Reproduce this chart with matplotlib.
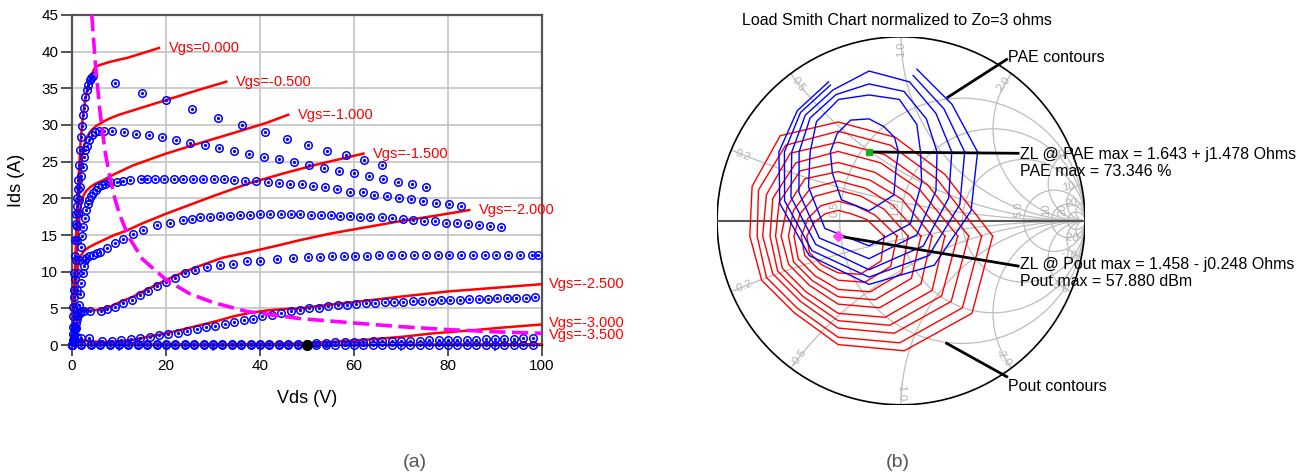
import numpy as np
import matplotlib.pyplot as plt
from matplotlib.patches import Circle

plt.rcParams['font.family'] = ['Liberation Sans', 'DejaVu Sans']

# ---------------- (a) I-V curves ----------------
# measured points (Vds, Ids) read off the plot, one list per Vgs
meas_0 = [(0.0, 0.0), (0.1, 0.7), (0.2, 2.5), (0.3, 5.2), (0.4, 7.5), (0.5, 9.8), (0.6, 12.2), (0.7, 14.3),
          (0.8, 16.5), (0.9, 17.8), (1.0, 18.9), (1.1, 20.0), (1.2, 21.3), (1.3, 22.5), (1.5, 24.6), (1.7, 26.6),
          (1.9, 28.3), (2.1, 29.8), (2.3, 31.3), (2.5, 32.3), (2.8, 33.8), (3.1, 34.8), (3.4, 35.5), (3.8, 36.1),
          (4.1, 36.4), (4.5, 36.7), (9.2, 35.7), (14.8, 34.4), (20.0, 33.4), (25.5, 32.2), (31.0, 31.0),
          (36.2, 30.0), (41.1, 29.0), (45.7, 28.1), (50.1, 27.3), (54.2, 26.5), (58.3, 25.9), (62.2, 25.2),
          (65.9, 24.6)]
meas_05 = [(0.0, 0.0), (0.15, 1.5), (0.3, 4.0), (0.45, 6.5), (0.6, 9.0), (0.8, 11.6), (1.0, 14.3), (1.15, 16.2),
           (1.3, 18.0), (1.5, 19.8), (1.7, 21.6), (2.0, 23.0), (2.3, 24.3), (2.6, 25.6), (2.8, 26.6), (3.1, 27.2),
           (3.5, 28.0), (4.2, 28.6), (4.9, 29.1), (5.7, 29.2), (6.7, 29.2), (8.6, 29.2), (11.1, 29.0), (13.6, 28.8),
           (16.4, 28.6), (19.2, 28.3), (22.1, 28.0), (25.1, 27.6), (28.2, 27.3), (31.3, 26.9), (34.5, 26.5),
           (37.7, 26.1), (40.9, 25.7), (44.1, 25.3), (47.3, 24.9), (50.5, 24.5), (53.7, 24.1), (56.9, 23.7),
           (60.0, 23.4), (63.2, 23.0), (66.2, 22.6), (69.3, 22.2), (72.3, 21.9), (75.3, 21.5)]
meas_10 = [(0.0, 0.0), (0.2, 0.4), (0.4, 0.7), (0.6, 2.5), (0.9, 5.2), (1.1, 7.5), (1.3, 9.8), (1.55, 11.6),
           (1.8, 13.4), (2.1, 14.8), (2.4, 16.1), (2.7, 17.3), (3.0, 18.4), (3.4, 19.2), (3.7, 19.8), (4.1, 20.3),
           (4.5, 20.7), (5.0, 21.2), (5.6, 21.6), (6.3, 21.8), (7.0, 22.0), (8.1, 22.2), (9.5, 22.2), (10.9, 22.4),
           (12.3, 22.5), (14.6, 22.6), (15.9, 22.7), (17.7, 22.7), (19.6, 22.7), (21.6, 22.7), (23.6, 22.7),
           (25.8, 22.7), (27.9, 22.7), (30.1, 22.6), (32.3, 22.6), (34.5, 22.5), (36.9, 22.4), (39.1, 22.3),
           (41.6, 22.2), (44.0, 22.1), (46.4, 22.0), (48.9, 21.9), (51.3, 21.7), (53.8, 21.6), (56.4, 21.3),
           (59.1, 20.9), (61.8, 20.8), (64.3, 20.5), (67.0, 20.3), (69.6, 20.1), (72.1, 19.9), (74.7, 19.6),
           (77.4, 19.4), (80.1, 19.2), (82.7, 19.0)]
meas_15 = [(0.0, 0.0), (0.3, 0.5), (0.6, 0.7), (0.9, 2.3), (1.1, 3.9), (1.4, 5.5), (1.7, 7.0), (2.0, 8.5),
           (2.3, 9.8), (2.6, 10.8), (2.8, 11.6), (3.0, 11.8), (3.5, 12.1), (4.5, 12.3), (5.2, 12.5), (6.0, 12.7),
           (7.4, 13.2), (9.1, 13.9), (10.9, 14.5), (13.0, 15.1), (15.2, 15.7), (18.0, 16.3), (20.9, 16.7),
           (23.7, 17.0), (25.5, 17.2), (27.2, 17.4), (29.4, 17.5), (31.5, 17.6), (33.6, 17.65), (35.7, 17.7),
           (37.9, 17.75), (40.0, 17.8), (42.2, 17.8), (44.4, 17.8), (46.5, 17.8), (48.6, 17.8), (50.8, 17.75),
           (52.9, 17.7), (55.0, 17.7), (57.1, 17.65), (59.1, 17.6), (61.3, 17.5), (63.5, 17.4), (65.9, 17.4),
           (68.0, 17.3), (70.4, 17.2), (72.6, 17.0), (74.9, 16.9), (77.2, 16.9), (79.6, 16.7), (81.8, 16.6),
           (84.2, 16.5), (86.6, 16.4), (88.9, 16.2), (91.2, 16.1)]
meas_20 = [(0.0, 0.0), (0.2, 0.5), (0.4, 1.2), (0.6, 2.2), (0.8, 3.0), (1.0, 3.6), (1.3, 4.1), (1.6, 4.4),
           (2.0, 4.6), (2.6, 4.6), (3.8, 4.6), (6.1, 4.6), (7.4, 4.9), (9.1, 5.2), (10.9, 5.7), (12.7, 6.2),
           (14.5, 6.8), (16.2, 7.4), (18.0, 8.0), (20.0, 8.6), (21.9, 9.2), (24.0, 9.8), (26.2, 10.2), (28.7, 10.6),
           (31.5, 10.9), (34.3, 11.1), (37.2, 11.4), (40.0, 11.5), (43.6, 11.7), (47.1, 11.8), (50.3, 12.0),
           (52.8, 12.05), (55.3, 12.1), (57.8, 12.15), (60.3, 12.2), (62.8, 12.2), (65.3, 12.25), (67.8, 12.25),
           (70.3, 12.3), (72.8, 12.3), (75.3, 12.3), (77.8, 12.3), (80.3, 12.3), (82.8, 12.3), (85.3, 12.3),
           (87.8, 12.3), (90.3, 12.3), (92.8, 12.3), (95.3, 12.3), (97.8, 12.3), (99.2, 12.3)]
meas_25 = [(0.0, 0.0), (0.2, 0.4), (0.5, 0.9), (1.0, 1.1), (2.0, 1.0), (3.5, 0.9), (6.3, 0.6), (8.5, 0.6),
           (10.5, 0.7), (12.5, 0.8), (14.5, 0.9), (16.5, 1.1), (18.5, 1.3), (20.5, 1.5), (22.5, 1.7), (24.5, 1.9),
           (26.5, 2.2), (28.5, 2.4), (30.5, 2.6), (32.5, 2.9), (34.5, 3.1), (36.5, 3.4), (38.5, 3.6), (40.5, 3.9),
           (42.5, 4.1), (44.5, 4.4), (46.5, 4.6), (48.5, 4.8), (50.5, 5.0), (52.5, 5.1), (54.5, 5.3), (56.5, 5.4),
           (58.5, 5.5), (60.5, 5.6), (62.5, 5.7), (64.5, 5.75), (66.5, 5.8), (68.5, 5.85), (70.5, 5.9),
           (72.5, 5.95), (74.5, 6.0), (76.5, 6.05), (78.5, 6.1), (80.5, 6.15), (82.5, 6.2), (84.5, 6.25),
           (86.5, 6.3), (88.5, 6.3), (90.5, 6.35), (92.5, 6.4), (94.5, 6.4), (96.5, 6.45), (98.5, 6.5)]
vds_low = [0, 2, 4, 6, 8, 10, 12, 14, 16, 18, 20, 22, 24, 26, 28, 30, 32, 34, 36, 38, 40, 42, 44, 46, 48,
           50, 52, 54, 56, 58, 60, 62, 64, 66, 68, 70, 72, 74, 76, 78, 80, 82, 84, 86, 88, 90, 92, 94, 96, 98]
ids_30 = [0.0, 0.2, 0.1, 0.1, 0.1, 0.1, 0.1, 0.1, 0.1, 0.1, 0.1, 0.1, 0.1, 0.1, 0.1, 0.1, 0.1, 0.1, 0.1, 0.1,
          0.1, 0.15, 0.15, 0.15, 0.2, 0.2, 0.25, 0.3, 0.35, 0.4, 0.4, 0.45, 0.5, 0.5, 0.55, 0.55, 0.6, 0.6, 0.65,
          0.65, 0.7, 0.7, 0.75, 0.75, 0.8, 0.8, 0.85, 0.85, 0.9, 0.9]
ids_35 = [0.0] * len(vds_low)

# model curves (Vds, Ids)
model_0 = [(0, 0), (0.3, 5), (0.6, 10), (1.0, 17), (1.4, 23), (1.8, 27.5), (2.2, 30.5), (2.7, 33), (3.3, 35),
           (4.0, 36.5), (4.6, 37.5), (5.2, 38), (6.0, 38.2), (8, 38.6), (10, 38.9), (12, 39.2), (14, 39.6),
           (16, 40), (18.5, 40.5)]
model_05 = [(0, 0), (0.4, 6), (0.8, 12), (1.2, 17.5), (1.6, 22), (2.0, 25), (2.5, 27), (3.0, 28.2), (4.0, 29.2),
            (5.0, 29.8), (6.5, 30.4), (8, 30.9), (10, 31.4), (14.5, 32.3), (20, 33.4), (27, 34.8), (32.8, 35.9)]
model_10 = [(0, 0), (0.4, 5), (0.8, 10), (1.2, 14.5), (1.6, 17.5), (2.0, 19.5), (2.5, 20.5), (3, 21), (4, 21.6),
            (5, 22), (6.7, 22.5), (9, 23.3), (13, 24.5), (20, 26.1), (27, 27.5), (34.3, 28.9), (41.4, 30.3),
            (46, 31.4)]
model_15 = [(0, 0), (0.4, 4), (0.8, 8), (1.2, 10.5), (1.7, 12), (2.5, 12.8), (3.5, 13.3), (5, 13.8), (7, 14.4),
            (9, 15), (11.6, 15.6), (15, 16.6), (20, 17.9), (25, 19.1), (30, 20.3), (37.9, 22.1), (45, 23.4),
            (52, 24.6), (62, 26.1)]
model_20 = [(0, 0), (0.5, 1.5), (1, 3), (1.5, 4), (2.4, 4.8), (4, 4.7), (6, 4.8), (8, 5.2), (10, 5.8), (13, 6.6),
            (16, 7.6), (20.1, 8.9), (24, 10), (27.2, 10.8), (32, 11.9), (37.9, 12.7), (44, 13.6), (48.5, 14.3),
            (55, 15.2), (62, 16.0), (70, 16.9), (78, 17.7), (84.5, 18.4)]
model_25 = [(0, 0), (0.5, 0.5), (1, 0.7), (1.7, 0.7), (3, 0.6), (6, 0.4), (9, 0.45), (13, 0.7), (16, 1.1),
            (20.1, 1.6), (24, 2.2), (27.2, 2.7), (31, 3.3), (34.3, 3.9), (38, 4.4), (41.4, 4.7), (45, 4.9),
            (48.5, 5.0), (54.9, 5.5), (62, 6.0), (70, 6.6), (80, 7.3), (90, 7.8), (100, 8.3)]
model_30 = [(0, 0), (5, 0.05), (10, 0.05), (20, 0.05), (30, 0.05), (40, 0.1), (45, 0.15), (50, 0.25), (60, 0.6),
            (70, 1.1), (77, 1.6), (85, 2.0), (92, 2.4), (100, 2.8)]
model_35 = [(0, 0), (20, 0), (40, 0), (60, 0.02), (80, 0.05), (100, 0.1)]

vgs_labels = ['Vgs=0.000', 'Vgs=-0.500', 'Vgs=-1.000', 'Vgs=-1.500',
              'Vgs=-2.000', 'Vgs=-2.500', 'Vgs=-3.000', 'Vgs=-3.500']

# constant power boundary (dashed magenta)
pmax_vds = [4.2, 5, 6, 7, 8, 9, 10, 12, 15, 20, 25, 30, 37, 48.5, 60, 70, 80, 90, 100]
pmax_ids = [45, 38, 31.5, 26.5, 23, 20.2, 18, 14.8, 11.7, 8.9, 7, 5.8, 4.6, 3.6, 3.0, 2.5, 2.1, 1.8, 1.6]

q_point = (50, 0)

fig = plt.figure(figsize=(13.15, 4.76), dpi=100)
ax = fig.add_axes([0.0548, 0.2752, 0.3574, 0.6933])

models = [model_0, model_05, model_10, model_15, model_20, model_25, model_30, model_35]
offsets = [(7, 0), (7, 0), (7, 0), (7, 0), (7, 0), (5, 0), (5, 1), (5, 7)]
for m, lab, off in zip(models, vgs_labels, offsets):
    v, i = np.array(m).T
    ax.plot(v, i, color='#ff0000', lw=1.8, zorder=3)
    ax.annotate(lab, xy=(v[-1], i[-1]), xytext=off, textcoords='offset points',
                va='center', ha='left', color='#ff0000', fontsize=10.5, annotation_clip=False)

mk = dict(ls='none', marker='o', ms=5.4, mfc='none', mec='#0000ff', mew=1.1, zorder=4, clip_on=False)
dot = dict(ls='none', marker='o', ms=1.3, color='#0000ff', zorder=4, clip_on=False)
for m in [meas_0, meas_05, meas_10, meas_15, meas_20, meas_25]:
    v, i = np.array(m).T
    ax.plot(v, i, **mk)
    ax.plot(v, i, **dot)
for i_row in [ids_30, ids_35]:
    ax.plot(vds_low, i_row, **mk)
    ax.plot(vds_low, i_row, **dot)

ax.plot(pmax_vds, pmax_ids, color='#ff00ff', lw=2.6, dashes=(4.5, 1.8), zorder=5)
ax.plot(*q_point, marker='o', ms=7, color='black', zorder=6, clip_on=False)

ax.set_xlim(0, 100)
ax.set_ylim(0, 45)
ax.set_xticks(range(0, 101, 20))
ax.set_xticks(range(10, 100, 20), minor=True)
ax.set_yticks(range(0, 46, 5))
ax.grid(True, color='#c8c8c8', lw=1.3)
ax.set_axisbelow(True)
ax.tick_params(axis='both', which='major', direction='out', length=8, width=1.3, color='#444444',
               labelsize=11, pad=2)
ax.tick_params(axis='x', which='minor', direction='out', length=4, width=1.1, color='#444444')
for s in ax.spines.values():
    s.set_color('#555555')
    s.set_linewidth(1.6)
ax.spines['bottom'].set_color('black')
ax.set_xlabel('Vds (V)', fontsize=13, labelpad=12)
ax.set_ylabel('Ids (A)', fontsize=13, labelpad=12)

fig.text(0.3156, 0.029, '(a)', fontsize=14, color='#555555', ha='center', va='center')
fig.text(0.6829, 0.029, '(b)', fontsize=14, color='#555555', ha='center', va='center')

# ---------------- (b) load Smith chart ----------------
r_circles = [0.5, 1.0, 2.0, 5.0, 10.0, 20.0]
x_arcs = [0.2, 0.5, 1.0, 2.0, 5.0, 10.0, 20.0]
r_labels = ['0.5', '1.0', '5.0', '10', '20']
x_labels = ['0.2', '0.5', '1.0', '2.0', '5.0', '10', '20']

# contour rings: radii (percent of chart radius) every 30 deg around a centre
angles_deg = [0, 30, 60, 90, 120, 150, 180, 210, 240, 270, 300, 330]
pout_centre = (-0.342, -0.083)
pout_rings = [
    [25, 18, 14, 14, 14, 15, 17, 18, 18, 20, 24, 27],
    [32, 23, 19, 19, 19, 19, 20, 21, 21, 24, 29, 33],
    [38, 29, 25, 25, 25, 24, 24, 25, 25, 29, 35, 40],
    [45, 34, 30, 30, 30, 28, 27, 28, 28, 33, 40, 46],
    [51, 40, 35, 35, 36, 32, 31, 31, 31, 37, 45, 52],
    [58, 45, 40, 40, 41, 37, 34, 35, 35, 42, 51, 59],
    [65, 51, 46, 46, 46, 41, 37, 38, 38, 46, 56, 65],
    [71, 56, 51, 51, 52, 45, 41, 41, 41, 50, 61, 71],
    [78, 62, 57, 57, 57, 50, 44, 45, 45, 55, 67, 78],
    [84, 67, 62, 62, 63, 54, 48, 48, 48, 59, 72, 84],
]
pae_centre = (-0.174, 0.374)
pae_rings = [
    [16, 16, 16, 18, 20, 20, 21, 23, 30, 32, 27, 17],
    [28, 30, 33, 31, 33, 33, 32, 38, 48, 51, 45, 33],
    [37, 36, 38, 37, 36, 37, 38, 44, 54, 58, 52, 42],
    [45, 42, 44, 44, 39, 40, 42, 49, 58, 64, 59, 50],
    [52, 47, 48, np.nan, 42, 43, 46, 53, 62, 68, 65, 57],
    [59, 52, 52, np.nan, 44, 45, 49, 56, 65, 72, 71, 64],
]

sax = fig.add_axes([0.5453, 0.1496, 0.2798, 0.7731])
sax.set_xlim(-1, 1)
sax.set_ylim(-1, 1)
sax.set_aspect('equal')
sax.axis('off')

grid_kw = dict(fill=False, ec='#bdbdbd', lw=0.9)
clip = Circle((0, 0), 1, transform=sax.transData)
for r in r_circles:
    c = sax.add_patch(Circle((r / (1 + r), 0), 1 / (1 + r), **grid_kw))
    c.set_clip_path(clip)
for x in x_arcs:
    for s in (1, -1):
        c = sax.add_patch(Circle((1, s / x), 1 / x, **grid_kw))
        c.set_clip_path(clip)
sax.add_patch(Circle((0, 0), 1, fill=False, ec='black', lw=1.2))
sax.plot([-1, 1], [0, 0], color='#555555', lw=1.5)

lab_kw = dict(color='#b0b0b0', fontsize=8, ha='center', va='center')
for lab in r_labels:
    r = float(lab)
    sax.text((r - 1) / (r + 1) - 0.03, 0.06, lab, rotation=90, **lab_kw)
for lab in x_labels:
    x = float(lab)
    for s in (1, -1):
        gx, gy = (x * x - 1) / (x * x + 1), s * 2 * x / (x * x + 1)
        th = np.degrees(np.arctan2(gy, gx))
        rot = th if abs(th) <= 90 else th - 180 * np.sign(th)
        txt = lab if s > 0 else '-' + lab
        sax.text(0.93 * gx, 0.93 * gy, txt, rotation=rot, **lab_kw)

th = np.radians(angles_deg + [0])
for ring in pout_rings:
    rr = np.array(ring + [ring[0]]) / 100
    sax.plot(pout_centre[0] + rr * np.cos(th), pout_centre[1] + rr * np.sin(th), color='#ff0000', lw=1.0)
for ring in pae_rings:
    rr = np.array(ring + [ring[0]]) / 100
    sax.plot(pae_centre[0] + rr * np.cos(th), pae_centre[1] + rr * np.sin(th), color='#0000ff', lw=1.0)

sax.plot(*pae_centre, marker='s', ms=4, color='#22aa22', zorder=6)
sax.plot(*pout_centre, marker='D', ms=5, color='#ff44ff', zorder=6)

line_kw = dict(color='black', lw=2, clip_on=False)
sax.plot([0.255, 0.574], [0.672, 0.877], **line_kw)
sax.plot([pae_centre[0], 0.636], [pae_centre[1], 0.367], **line_kw)
sax.plot([pout_centre[0], 0.636], [pout_centre[1], -0.246], **line_kw)
sax.plot([0.248, 0.574], [-0.666, -0.847], **line_kw)

txt_kw = dict(fontsize=11.5, ha='left', va='center', color='black', clip_on=False)
sax.text(0.582, 0.889, 'PAE contours', **txt_kw)
sax.text(0.647, 0.358, 'ZL @ PAE max = 1.643 + j1.478 Ohms', **txt_kw)
sax.text(0.647, 0.267, 'PAE max = 73.346 %', **txt_kw)
sax.text(0.647, -0.240, 'ZL @ Pout max = 1.458 - j0.248 Ohms', **txt_kw)
sax.text(0.647, -0.331, 'Pout max = 57.880 dBm', **txt_kw)
sax.text(0.582, -0.901, 'Pout contours', **txt_kw)
sax.text(-0.022, 1.091, 'Load Smith Chart normalized to Zo=3 ohms', fontsize=11.5, ha='center', va='center')

fig.savefig('out.png', dpi=100)
